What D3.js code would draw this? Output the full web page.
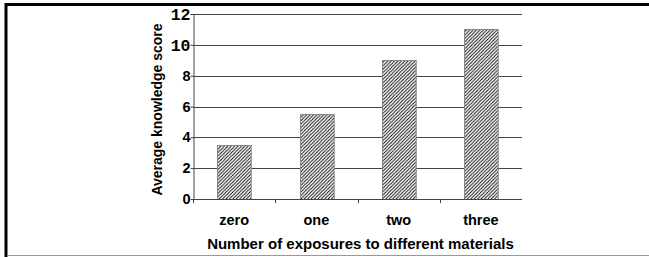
<!DOCTYPE html>
<html>
<head>
<meta charset="utf-8">
<script src="https://cdn.jsdelivr.net/npm/d3@7"></script>
<style>
  body { margin: 0; background: #fff; }
  svg { display: block; }
</style>
</head>
<body>
<div id="chart"></div>
<script>
// Data
const categories = ["zero", "one", "two", "three"]
const scores = [3.5, 5.5, 9, 11]
const y_ticks = [0, 2, 4, 6, 8, 10, 12]

// Layout consts
const width = 649
const height = 257
const plot = {left: 193, right: 522, top: 14, bottom: 199}
const grid_color = "#444"
const sans = "'Liberation Sans', Arial, sans-serif"
const mono = "'Liberation Mono', 'Courier New', monospace"

const svg = d3.select("#chart").append("svg")
    .attr("width", width)
    .attr("height", height)

// hatch pattern for bars
const hs = 3.4
const defs = svg.append("defs")
defs.append("pattern")
    .attr("id", "hatch")
    .attr("patternUnits", "userSpaceOnUse")
    .attr("width", hs)
    .attr("height", hs)
    .call(p => {
        p.append("rect").attr("width", hs).attr("height", hs).attr("fill", "#fff")
        p.append("path")
            .attr("d", `M${-hs/4},${hs/4} l${hs/2},${-hs/2} M0,${hs} l${hs},${-hs} M${hs*0.75},${hs*1.25} l${hs/2},${-hs/2}`)
            .attr("stroke", "#000")
            .attr("stroke-width", 0.9)
    })

// frame
svg.append("line").attr("x1", 5).attr("x2", width).attr("y1", 4.5).attr("y2", 4.5)
    .attr("stroke", "#000").attr("stroke-width", 3)
svg.append("line").attr("x1", 6).attr("x2", 6).attr("y1", 3).attr("y2", height)
    .attr("stroke", "#000").attr("stroke-width", 3)
svg.append("line").attr("x1", 7).attr("x2", width).attr("y1", 255.5).attr("y2", 255.5)
    .attr("stroke", "#999").attr("stroke-width", 1)

// scales
const x = d3.scaleBand()
    .domain(categories)
    .range([plot.left, plot.right])
    .paddingInner(0.59)
    .paddingOuter(0.295)

const y = d3.scaleLinear()
    .domain([0, 12])
    .range([plot.bottom, plot.top])

// gridlines
svg.append("g")
    .selectAll("line")
    .data(y_ticks.filter(d => d > 0))
    .join("line")
    .attr("x1", plot.left)
    .attr("x2", plot.right)
    .attr("y1", d => Math.round(y(d)) + 0.5)
    .attr("y2", d => Math.round(y(d)) + 0.5)
    .attr("stroke", grid_color)

// bars
svg.append("g")
    .selectAll("rect")
    .data(scores)
    .join("rect")
    .attr("x", (d, i) => Math.round(x(categories[i])) + 0.5)
    .attr("y", d => Math.round(y(d)) + 0.5)
    .attr("width", x.bandwidth())
    .attr("height", d => Math.round(y(0)) - Math.round(y(d)))
    .attr("fill", "url(#hatch)")
    .attr("stroke", "#888")
    .attr("stroke-width", 1)

// y axis
const y_axis = svg.append("g")
    .attr("transform", `translate(${plot.left + 0.5},0)`)
    .call(d3.axisLeft(y).tickValues(y_ticks).tickSize(3).tickPadding(0).tickSizeOuter(0))
y_axis.select(".domain").attr("stroke", grid_color)
y_axis.selectAll(".tick line").attr("stroke", grid_color)
y_axis.selectAll(".tick text")
    .attr("fill", "#000")
    .attr("font-weight", "bold")
    .attr("font-family", d => d >= 10 ? mono : sans)
    .attr("font-size", d => d >= 10 ? 16.5 : 14.5)

// x axis
const x_ticks = d3.range(categories.length).map(i => plot.left + i * x.step())
const x_axis = svg.append("g")
x_axis.append("line")
    .attr("x1", plot.left).attr("x2", plot.right)
    .attr("y1", plot.bottom + 0.5).attr("y2", plot.bottom + 0.5)
    .attr("stroke", grid_color)
x_axis.selectAll("line.tick")
    .data(x_ticks)
    .join("line")
    .attr("class", "tick")
    .attr("x1", d => Math.round(d) + 0.5)
    .attr("x2", d => Math.round(d) + 0.5)
    .attr("y1", plot.bottom)
    .attr("y2", plot.bottom + 4)
    .attr("stroke", grid_color)
x_axis.selectAll("text")
    .data(categories)
    .join("text")
    .attr("x", d => x(d) + x.bandwidth() / 2)
    .attr("y", 225)
    .attr("text-anchor", "middle")
    .attr("font-family", sans)
    .attr("font-weight", "bold")
    .attr("font-size", 14.5)
    .text(d => d)

// axis titles
svg.append("text")
    .attr("x", (plot.left + plot.right) / 2 + 3)
    .attr("y", 249)
    .attr("text-anchor", "middle")
    .attr("font-family", sans)
    .attr("font-weight", "bold")
    .attr("font-size", 15)
    .text("Number of exposures to different materials")

svg.append("text")
    .attr("transform", `translate(162,${(plot.top + plot.bottom) / 2 + 3}) rotate(-90)`)
    .attr("text-anchor", "middle")
    .attr("font-family", sans)
    .attr("font-weight", "bold")
    .attr("font-size", 14)
    .text("Average knowledge score")
</script>
</body>
</html>
